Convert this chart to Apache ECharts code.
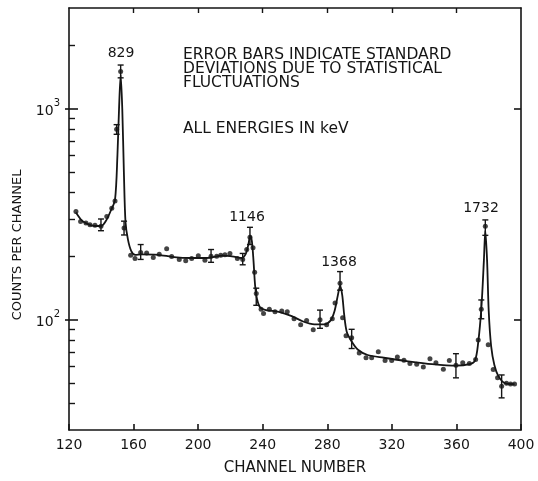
<!DOCTYPE html>
<html>
<head>
<meta charset="utf-8">
<script src="https://cdn.jsdelivr.net/npm/echarts@6/dist/echarts.min.js"></script>
<style>
html, body { margin: 0; padding: 0; background: #fff; }
#chart { width: 538px; height: 481px; }
</style>
</head>
<body>
<div id="chart"></div>
<script>
// measured data points (channel, counts per channel)
const pointChannels = [124.3, 127.2, 130.5, 133.0, 136.1, 139.8, 143.4, 146.5, 148.5, 149.5, 152.0, 154.1,
    158.2, 160.9, 164.4, 168.1, 172.2, 175.9, 180.5, 183.6, 188.3, 192.3, 196.0, 200.1, 204.2, 208.0,
    211.5, 214.0, 216.6, 219.7, 224.3, 227.6, 230.1, 232.1, 234.0, 235.0, 236.0, 239.0, 240.5, 244.1,
    247.6, 251.8, 255.2, 259.4, 263.5, 267.2, 271.3, 275.5, 279.6, 283.1, 284.8, 287.9, 289.5, 291.6,
    295.1, 299.8, 304.0, 307.5, 311.6, 315.8, 319.9, 323.4, 327.5, 331.2, 335.4, 339.5, 343.6, 347.3,
    351.9, 355.6, 359.7, 363.9, 368.0, 371.9, 373.5, 375.4, 377.9, 379.7, 382.8, 385.5, 388.0, 391.0,
    393.5, 396.0]
const pointCounts = [326, 292, 287, 282, 280, 277, 308, 337, 365, 798, 1500, 272,
    202, 195, 208, 207, 197, 204, 217, 199, 193, 190, 195, 201, 191, 200,
    200, 202, 203, 206, 195, 193, 215, 246, 219, 168, 133, 112, 107, 112,
    109, 110, 109, 101, 94.5, 99, 89.5, 100, 94.5, 101, 120, 149, 102, 84,
    82, 69.6, 66, 66, 70.4, 64, 64, 66.6, 64.3, 62, 61.4, 59.7, 65.2, 62.5,
    58.2, 64, 60.8, 62.5, 62, 64.8, 80, 112, 277, 76, 58, 53, 48.3, 50,
    49.5, 49.5]

// error bars (channel, low, high)
const errChannels = [139.8, 149.5, 152.0, 154.1, 164.4, 208.0, 227.6, 232.1, 236.0, 275.5, 287.9, 295.1, 359.7, 375.4, 377.9, 388.0]
const errLow = [264, 756, 1400, 252, 193, 187, 182, 227, 117, 91, 138, 73, 53, 101, 251, 42.6]
const errHigh = [300, 840, 1610, 293, 227, 215, 206, 274, 141, 111, 169, 90, 69, 124, 297, 54.7]

// fitted curve
const curveChannels = [124.3, 128, 132, 136, 140, 143, 146, 148.5, 150, 151, 152, 153, 154, 155, 156.5, 158.5,
    161, 165, 175, 185, 195, 205, 215, 222, 227, 229.5, 231, 232.3, 233.3, 234.3, 235.3, 236.5, 238.5,
    242, 250, 258, 265, 272, 278, 282, 284.5, 286.5, 288, 289.3, 290.5, 292, 295, 299, 305, 315, 330,
    345, 360, 368, 371.5, 373.5, 375.5, 377, 377.9, 379, 380, 381.5, 383.5, 386, 390, 396]
const curveCounts = [322, 295, 283, 278, 278, 295, 330, 370, 600, 1000, 1450, 1000, 500, 290, 240, 212,
    203, 204, 203, 198, 196, 196, 201, 199, 196, 205, 225, 250, 235, 190, 145, 125, 114,
    111, 109, 104, 98, 95, 95, 99, 110, 130, 145, 130, 105, 88, 79, 72, 68, 66, 63.5,
    61.5, 60.5, 61.5, 64, 78, 115, 190, 265, 190, 110, 75, 61, 54, 50, 49.5]

const xTicks = [160, 200, 240, 280, 320, 360]
const yMajorTicks = [100, 1000]
const yMinorTicks = [40, 50, 60, 70, 80, 90, 200, 300, 400, 500, 600, 700, 800, 900, 2000]

const peakNames = ['829', '1146', '1368', '1732']
const notes = ['ERROR BARS INDICATE STANDARD', 'DEVIATIONS DUE TO STATISTICAL', 'FLUCTUATIONS', 'ALL ENERGIES IN keV']

const ink = '#151515'
const font = 'DejaVu Sans'

const chart = echarts.init(document.getElementById('chart'), null, { renderer: 'canvas' })

function zip(a, b) {
    return a.map((v, i) => [v, b[i]])
}

function logAxis(extra) {
    return Object.assign({
        type: 'log',
        logBase: 10,
        min: 30,
        max: 3000,
        position: 'left',
        splitLine: { show: false },
        axisLine: { show: false },
        axisLabel: { show: false },
        axisTick: { show: false }
    }, extra)
}

function note(text, x, y, size) {
    return { type: 'text', x, y, style: { text, font: size + 'px ' + font, fill: ink, verticalAlign: 'middle' } }
}

function peak(text, x, y) {
    return { type: 'text', x, y, style: { text, font: '14px ' + font, fill: ink, align: 'center', verticalAlign: 'middle' } }
}

const option = {
    animation: false,
    backgroundColor: '#fff',
    grid: { left: 69, right: 17, top: 8, bottom: 46 },
    xAxis: [
        {
            type: 'value',
            min: 120,
            max: 400,
            interval: 40,
            position: 'bottom',
            splitLine: { show: false },
            axisLine: { lineStyle: { color: ink, width: 1.6 } },
            axisTick: { inside: true, length: 6, lineStyle: { color: ink, width: 1.6 } },
            axisLabel: { color: ink, fontSize: 14, fontFamily: font, margin: 8 },
            name: 'CHANNEL NUMBER',
            nameLocation: 'middle',
            nameGap: 31,
            nameTextStyle: { color: ink, fontSize: 15, fontFamily: font }
        },
        {
            type: 'value',
            min: 120,
            max: 400,
            position: 'top',
            splitLine: { show: false },
            axisLine: { lineStyle: { color: ink, width: 1.6 } },
            axisTick: { inside: true, length: 5, customValues: xTicks, lineStyle: { color: ink, width: 1.4 } },
            axisLabel: { show: false }
        }
    ],
    yAxis: [
        logAxis({
            axisLine: { show: true, lineStyle: { color: ink, width: 1.6 } },
            axisTick: { show: true, inside: true, length: 6, customValues: yMinorTicks, lineStyle: { color: ink, width: 1.4 } }
        }),
        logAxis({
            axisTick: { show: true, inside: true, length: 9, customValues: yMajorTicks, lineStyle: { color: ink, width: 1.6 } },
            axisLabel: {
                show: true,
                customValues: yMajorTicks,
                margin: 9,
                formatter: function (v) {
                    return '{b|10}{s|' + Math.round(Math.log10(v)) + '}'
                },
                rich: {
                    b: { color: ink, fontSize: 14, fontFamily: font, lineHeight: 20, verticalAlign: 'bottom' },
                    s: { color: ink, fontSize: 10, fontFamily: font, lineHeight: 20, verticalAlign: 'top' }
                }
            }
        }),
        logAxis({
            axisTick: { show: true, inside: false, length: 4, customValues: yMajorTicks, lineStyle: { color: ink, width: 1.6 } }
        }),
        logAxis({
            position: 'right',
            axisLine: { show: true, lineStyle: { color: ink, width: 1.6 } },
            axisTick: { show: true, inside: true, length: 7, customValues: yMajorTicks, lineStyle: { color: ink, width: 1.6 } }
        })
    ],
    series: [
        {
            name: 'fit',
            type: 'line',
            data: zip(curveChannels, curveCounts),
            smooth: 0.3,
            showSymbol: false,
            lineStyle: { color: ink, width: 1.8 }
        },
        {
            name: 'errors',
            type: 'custom',
            data: errChannels.map((c, i) => [c, errLow[i], errHigh[i]]),
            encode: { x: 0, y: [1, 2] },
            renderItem: function (params, api) {
                const lo = api.coord([api.value(0), api.value(1)])
                const hi = api.coord([api.value(0), api.value(2)])
                const w = 3
                const style = { stroke: ink, lineWidth: 1.4 }
                return {
                    type: 'group',
                    children: [
                        { type: 'line', shape: { x1: lo[0], y1: lo[1], x2: hi[0], y2: hi[1] }, style },
                        { type: 'line', shape: { x1: lo[0] - w, y1: lo[1], x2: lo[0] + w, y2: lo[1] }, style },
                        { type: 'line', shape: { x1: hi[0] - w, y1: hi[1], x2: hi[0] + w, y2: hi[1] }, style }
                    ]
                }
            }
        },
        {
            name: 'counts',
            type: 'scatter',
            data: zip(pointChannels, pointCounts),
            symbolSize: 5,
            itemStyle: { color: ink }
        }
    ],
    graphic: [
        peak(peakNames[0], 121, 53),
        peak(peakNames[1], 247, 217),
        peak(peakNames[2], 339, 262),
        peak(peakNames[3], 481, 208),
        note(notes[0], 183, 55, 15.5),
        note(notes[1], 183, 69, 15.5),
        note(notes[2], 183, 83, 15.5),
        note(notes[3], 183, 129, 15.5),
        { type: 'text', x: 18, y: 245, rotation: Math.PI / 2, style: { text: 'COUNTS PER CHANNEL', font: '13px ' + font, fill: ink, align: 'center', verticalAlign: 'middle' } }
    ]
}

chart.setOption(option)
</script>
</body>
</html>
